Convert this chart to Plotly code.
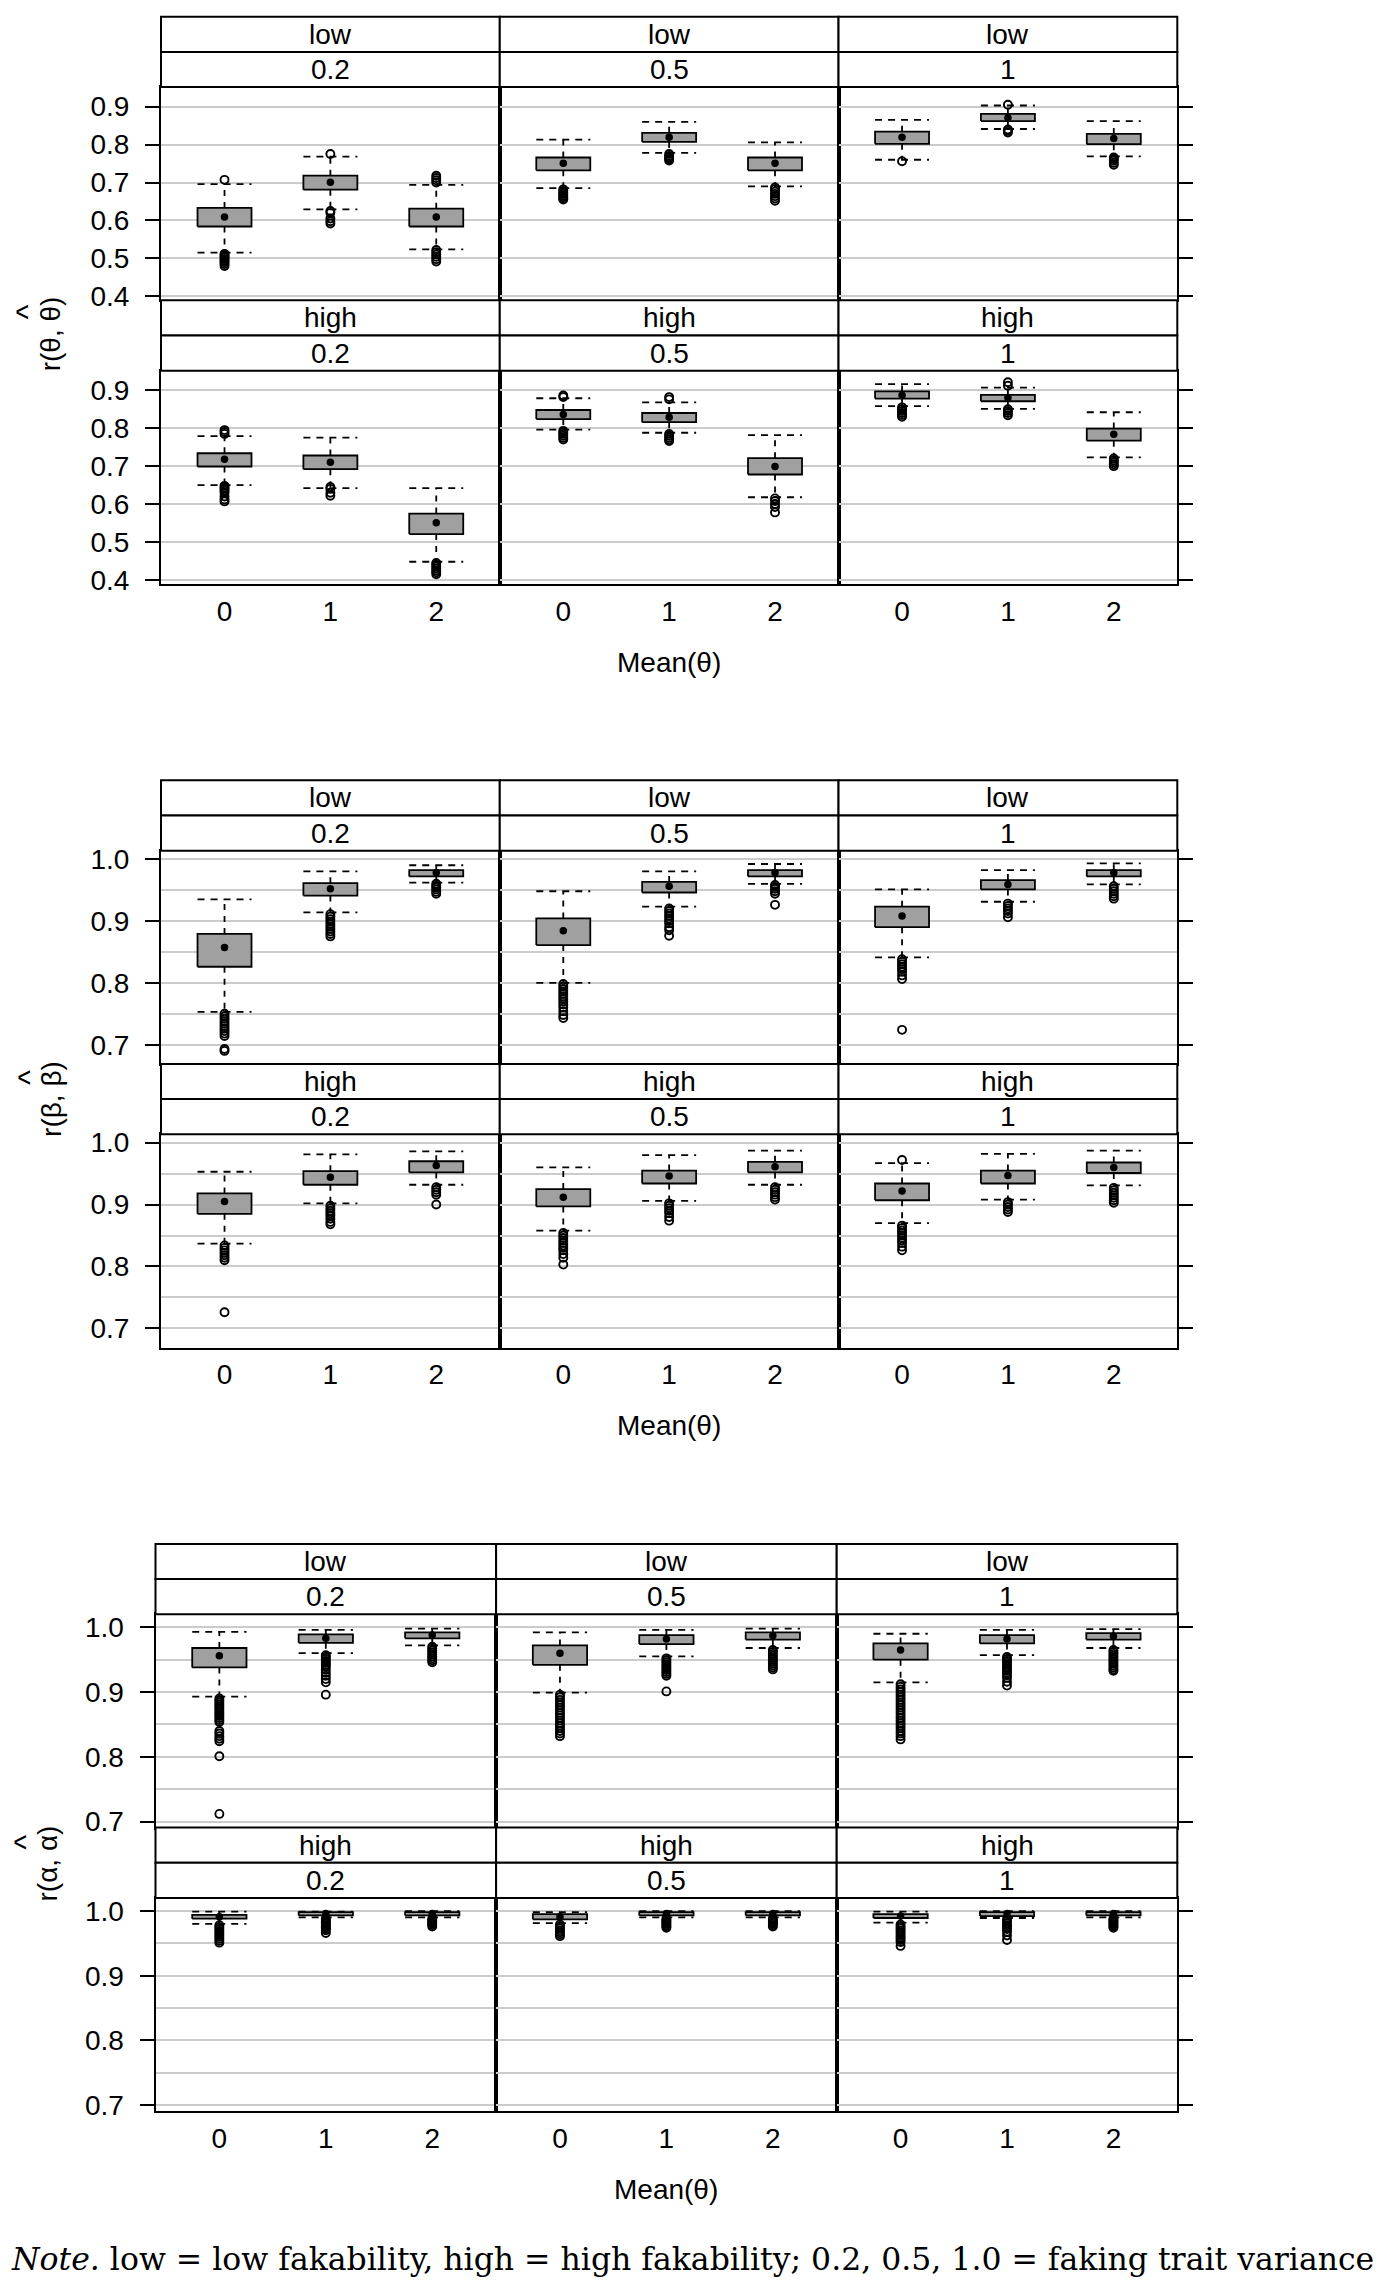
import plotly.graph_objects as go

means = ['0', '1', '2']
variances = ['0.2', '0.5', '1']
fakability = ['low', 'high']

# every list runs low/0.2, low/0.5, low/1, high/0.2, high/0.5, high/1 ; mean 0,1,2 inside each
theta_lo = [0.515, 0.629, 0.524, 0.685, 0.778, 0.690, 0.760, 0.841, 0.769,
            0.650, 0.642, 0.448, 0.796, 0.788, 0.618, 0.858, 0.851, 0.723]
theta_q1 = [0.584, 0.681, 0.584, 0.732, 0.807, 0.732, 0.802, 0.862, 0.801,
            0.699, 0.692, 0.521, 0.824, 0.816, 0.678, 0.878, 0.871, 0.767]
theta_med = [0.609, 0.701, 0.609, 0.751, 0.819, 0.751, 0.819, 0.871, 0.816,
             0.718, 0.710, 0.551, 0.836, 0.829, 0.699, 0.887, 0.880, 0.784]
theta_q3 = [0.633, 0.718, 0.631, 0.766, 0.831, 0.766, 0.834, 0.881, 0.828,
            0.734, 0.728, 0.575, 0.848, 0.840, 0.721, 0.897, 0.888, 0.799]
theta_hi = [0.696, 0.768, 0.694, 0.813, 0.860, 0.806, 0.865, 0.903, 0.862,
            0.779, 0.775, 0.642, 0.879, 0.868, 0.782, 0.916, 0.907, 0.842]
theta_out = [
    [0.707, 0.512, 0.508, 0.505, 0.502, 0.498, 0.494, 0.490, 0.485, 0.480],
    [0.775, 0.625, 0.620, 0.605, 0.598, 0.592],
    [0.718, 0.712, 0.706, 0.700, 0.522, 0.516, 0.510, 0.504, 0.498, 0.492],
    [0.682, 0.678, 0.674, 0.670, 0.666, 0.662, 0.658, 0.655],
    [0.775, 0.770, 0.766, 0.762, 0.758],
    [0.687, 0.682, 0.676, 0.670, 0.664, 0.658, 0.652],
    [0.756],
    [0.905, 0.840, 0.836, 0.832],
    [0.766, 0.762, 0.758, 0.752, 0.747],
    [0.795, 0.790, 0.785, 0.648, 0.644, 0.640, 0.635, 0.630, 0.620, 0.612, 0.607],
    [0.645, 0.640, 0.630, 0.622],
    [0.445, 0.440, 0.435, 0.430, 0.425, 0.420, 0.415],
    [0.886, 0.882, 0.793, 0.789, 0.785, 0.780, 0.775, 0.770],
    [0.882, 0.876, 0.785, 0.780, 0.775, 0.770, 0.766],
    [0.615, 0.608, 0.600, 0.592, 0.578],
    [0.855, 0.850, 0.845, 0.840, 0.835, 0.830],
    [0.921, 0.912, 0.850, 0.845, 0.840, 0.834],
    [0.720, 0.715, 0.710, 0.705, 0.700],
]

beta_lo = [0.753, 0.914, 0.962, 0.800, 0.923, 0.960, 0.841, 0.931, 0.959,
           0.837, 0.902, 0.932, 0.858, 0.906, 0.932, 0.870, 0.908, 0.931]
beta_q1 = [0.826, 0.941, 0.972, 0.861, 0.946, 0.972, 0.890, 0.951, 0.972,
           0.885, 0.932, 0.952, 0.897, 0.934, 0.952, 0.907, 0.934, 0.951]
beta_med = [0.857, 0.952, 0.978, 0.884, 0.956, 0.978, 0.908, 0.959, 0.978,
            0.905, 0.944, 0.963, 0.912, 0.946, 0.961, 0.922, 0.947, 0.960]
beta_q3 = [0.879, 0.961, 0.982, 0.904, 0.963, 0.982, 0.923, 0.966, 0.982,
           0.918, 0.954, 0.970, 0.925, 0.955, 0.969, 0.934, 0.955, 0.968]
beta_hi = [0.935, 0.980, 0.990, 0.948, 0.980, 0.992, 0.951, 0.982, 0.993,
           0.953, 0.981, 0.986, 0.960, 0.980, 0.987, 0.967, 0.982, 0.987]
beta_out = [
    [0.750, 0.746, 0.742, 0.738, 0.734, 0.730, 0.726, 0.722, 0.718, 0.714, 0.693, 0.690],
    [0.911, 0.907, 0.903, 0.899, 0.895, 0.891, 0.887, 0.883, 0.879, 0.875],
    [0.960, 0.957, 0.954, 0.951, 0.947, 0.944],
    [0.798, 0.794, 0.790, 0.786, 0.782, 0.778, 0.774, 0.770, 0.765, 0.760, 0.754, 0.748, 0.743],
    [0.920, 0.916, 0.912, 0.908, 0.904, 0.900, 0.896, 0.890, 0.885, 0.876],
    [0.958, 0.955, 0.952, 0.948, 0.944, 0.926],
    [0.838, 0.834, 0.830, 0.826, 0.822, 0.818, 0.812, 0.806, 0.724],
    [0.928, 0.924, 0.920, 0.916, 0.912, 0.906],
    [0.956, 0.952, 0.948, 0.944, 0.940, 0.936],
    [0.834, 0.830, 0.826, 0.822, 0.818, 0.814, 0.810, 0.726],
    [0.898, 0.894, 0.890, 0.886, 0.882, 0.877, 0.872, 0.868],
    [0.928, 0.924, 0.920, 0.916, 0.900],
    [0.854, 0.850, 0.846, 0.842, 0.838, 0.834, 0.830, 0.826, 0.820, 0.814, 0.803],
    [0.902, 0.898, 0.894, 0.890, 0.886, 0.880, 0.874],
    [0.928, 0.924, 0.920, 0.916, 0.912, 0.908],
    [0.972, 0.866, 0.862, 0.858, 0.854, 0.850, 0.846, 0.842, 0.838, 0.832, 0.826],
    [0.904, 0.900, 0.896, 0.892, 0.888],
    [0.927, 0.923, 0.919, 0.915, 0.911, 0.907, 0.903],
]

alpha_lo = [0.893, 0.960, 0.972, 0.899, 0.955, 0.968, 0.915, 0.957, 0.968,
            0.980, 0.990, 0.990, 0.981, 0.990, 0.990, 0.982, 0.989, 0.990]
alpha_q1 = [0.938, 0.976, 0.983, 0.942, 0.974, 0.981, 0.950, 0.975, 0.981,
            0.988, 0.993, 0.993, 0.987, 0.993, 0.993, 0.989, 0.992, 0.993]
alpha_med = [0.956, 0.983, 0.988, 0.960, 0.982, 0.987, 0.965, 0.982, 0.986,
             0.991, 0.996, 0.996, 0.991, 0.996, 0.996, 0.992, 0.996, 0.996]
alpha_q3 = [0.968, 0.989, 0.992, 0.972, 0.988, 0.992, 0.975, 0.988, 0.991,
            0.994, 0.998, 0.998, 0.995, 0.998, 0.998, 0.995, 0.998, 0.998]
alpha_hi = [0.993, 0.996, 0.998, 0.992, 0.996, 0.998, 0.990, 0.996, 0.997,
            0.999, 0.999, 0.9995, 0.998, 0.9995, 0.9995, 0.999, 0.9995, 0.9995]
alpha_out = [
    [0.890, 0.887, 0.884, 0.881, 0.878, 0.875, 0.872, 0.869, 0.866, 0.863, 0.860, 0.857, 0.854,
     0.840, 0.836, 0.832, 0.828, 0.824, 0.801, 0.712],
    [0.957, 0.954, 0.951, 0.948, 0.945, 0.942, 0.939, 0.935, 0.930, 0.925, 0.920, 0.915, 0.896],
    [0.970, 0.967, 0.964, 0.961, 0.958, 0.955, 0.952, 0.949, 0.946],
    [0.896, 0.892, 0.888, 0.884, 0.880, 0.876, 0.872, 0.868, 0.864, 0.860, 0.856, 0.852, 0.848,
     0.844, 0.840, 0.836, 0.832],
    [0.952, 0.949, 0.946, 0.943, 0.940, 0.937, 0.934, 0.931, 0.928, 0.925, 0.901],
    [0.965, 0.962, 0.959, 0.956, 0.953, 0.950, 0.947, 0.944, 0.941, 0.938, 0.935],
    [0.912, 0.908, 0.904, 0.900, 0.896, 0.892, 0.888, 0.884, 0.880, 0.876, 0.872, 0.868, 0.864,
     0.860, 0.856, 0.852, 0.848, 0.844, 0.840, 0.836, 0.832, 0.827],
    [0.954, 0.951, 0.948, 0.945, 0.942, 0.939, 0.936, 0.933, 0.930, 0.926, 0.922, 0.916, 0.910],
    [0.965, 0.962, 0.959, 0.956, 0.953, 0.950, 0.947, 0.944, 0.941, 0.938, 0.935, 0.933],
    [0.978, 0.975, 0.972, 0.969, 0.966, 0.963, 0.960, 0.957, 0.954, 0.951],
    [0.988, 0.986, 0.984, 0.982, 0.980, 0.978, 0.976, 0.974, 0.972, 0.970, 0.966],
    [0.988, 0.986, 0.984, 0.982, 0.980, 0.978, 0.976],
    [0.979, 0.976, 0.973, 0.970, 0.967, 0.964, 0.961],
    [0.988, 0.986, 0.984, 0.982, 0.980, 0.978, 0.976, 0.974],
    [0.988, 0.986, 0.984, 0.982, 0.980, 0.978, 0.976],
    [0.979, 0.976, 0.973, 0.970, 0.967, 0.964, 0.961, 0.958, 0.955, 0.952, 0.946],
    [0.987, 0.984, 0.981, 0.978, 0.975, 0.972, 0.968, 0.962, 0.955],
    [0.988, 0.986, 0.984, 0.982, 0.980, 0.978, 0.976, 0.974],
]

theta_ticks = [0.4, 0.5, 0.6, 0.7, 0.8, 0.9]
corr_ticks = [0.7, 0.8, 0.9, 1.0]
corr_minor = [0.75, 0.85, 0.95]

panels = [
    dict(lo=theta_lo, q1=theta_q1, med=theta_med, q3=theta_q3, hi=theta_hi, out=theta_out,
         ticks=theta_ticks, minor=[], yr=[0.3895, 0.9515], title='r(θ, θ)'),
    dict(lo=beta_lo, q1=beta_q1, med=beta_med, q3=beta_q3, hi=beta_hi, out=beta_out,
         ticks=corr_ticks, minor=corr_minor, yr=[0.669, 1.0135], title='r(β, β)'),
    dict(lo=alpha_lo, q1=alpha_q1, med=alpha_med, q3=alpha_q3, hi=alpha_hi, out=alpha_out,
         ticks=corr_ticks, minor=corr_minor, yr=[0.691, 1.020], title='r(α, α)'),
]

# page geometry in pixels
W, H = 1381, 2287
panel_top = [1.7, 771.7, 1541.7]
panel_left = [153, 153, 147.5]
panel_right = 1169.3
strip_h = 35.5
plot_h = 215
ytitle_pos = [(42, 322), (44, 1093), (40, 1864)]
hat_pos = [(19, 300), (21, 1072), (17, 1843)]
xtitle_y = [653, 1422, 2193]

FONT = 'Liberation Sans, Arial, sans-serif'
FS = 28
BLACK = 'black'
GRID = '#cbcbcb'
hw = 0.255


def px(x):
    return x / W


def py(y):
    return 1 - y / H


fig = go.Figure()
layout = {}
shapes = []
annotations = []

for p, pan in enumerate(panels):
    colw = (panel_right - panel_left[p]) / 3
    for r in range(2):
        top = panel_top[p] + r * (2 * strip_h + plot_h) + 2 * strip_h
        for c in range(3):
            n = p * 6 + r * 3 + c + 1
            k = r * 3 + c
            x0 = panel_left[p] + c * colw
            x1 = x0 + colw
            xa = 'x' if n == 1 else 'x%d' % n
            ya = 'y' if n == 1 else 'y%d' % n

            # strips
            labels = [fakability[r], variances[c]]
            for s in range(2):
                s0 = top - (2 - s) * strip_h
                s1 = s0 + strip_h
                shapes.append(dict(type='rect', xref='paper', yref='paper',
                                   x0=px(x0), x1=px(x1), y0=py(s1), y1=py(s0),
                                   line=dict(color=BLACK, width=2), fillcolor='white'))
                annotations.append(dict(xref='paper', yref='paper', x=px((x0 + x1) / 2),
                                        y=py((s0 + s1) / 2), text=labels[s], showarrow=False,
                                        font=dict(family=FONT, size=FS, color=BLACK),
                                        xanchor='center', yanchor='middle'))

            lo = pan['lo'][k * 3:k * 3 + 3]
            q1 = pan['q1'][k * 3:k * 3 + 3]
            med = pan['med'][k * 3:k * 3 + 3]
            q3 = pan['q3'][k * 3:k * 3 + 3]
            hi = pan['hi'][k * 3:k * 3 + 3]
            outs = pan['out'][k * 3:k * 3 + 3]

            wx, wy, cx, cy, bx, by, ox, oy = [], [], [], [], [], [], [], []
            for j in range(3):
                wx += [j, j, None, j, j, None]
                wy += [q3[j], hi[j], None, q1[j], lo[j], None]
                cx += [j - hw, j + hw, None, j - hw, j + hw, None]
                cy += [hi[j], hi[j], None, lo[j], lo[j], None]
                bx += [j - hw, j + hw, j + hw, j - hw, j - hw, None]
                by += [q1[j], q1[j], q3[j], q3[j], q1[j], None]
                ox += [j] * len(outs[j])
                oy += outs[j]

            common = dict(xaxis=xa, yaxis=ya, showlegend=False, hoverinfo='skip')
            fig.add_trace(go.Scatter(x=wx, y=wy, mode='lines',
                                     line=dict(color=BLACK, width=1.8, dash='6px,6px'), **common))
            fig.add_trace(go.Scatter(x=cx, y=cy, mode='lines',
                                     line=dict(color=BLACK, width=1.8, dash='7px,6px'), **common))
            fig.add_trace(go.Scatter(x=bx, y=by, mode='lines', fill='toself',
                                     fillcolor='#a0a0a0', line=dict(color=BLACK, width=1.8), **common))
            fig.add_trace(go.Scatter(x=ox, y=oy, mode='markers',
                                     marker=dict(symbol='circle-open', size=8, color=BLACK,
                                                 line=dict(width=1.9, color=BLACK)), **common))
            fig.add_trace(go.Scatter(x=[0, 1, 2], y=med, mode='markers',
                                     marker=dict(symbol='circle', size=7.5, color=BLACK), **common))

            xkey = 'xaxis' if n == 1 else 'xaxis%d' % n
            ykey = 'yaxis' if n == 1 else 'yaxis%d' % n
            layout[xkey] = dict(domain=[px(x0), px(x1)], anchor=ya, range=[-0.6, 2.6],
                                tickmode='array', tickvals=[0, 1, 2], ticktext=means,
                                showticklabels=(r == 1), ticks='', ticklen=0, ticklabelstandoff=1,
                                showgrid=False, zeroline=False, showline=True, mirror=True,
                                linecolor=BLACK, linewidth=2,
                                tickfont=dict(family=FONT, size=FS, color=BLACK))
            layout[ykey] = dict(domain=[py(top + plot_h), py(top)], anchor=xa, range=pan['yr'],
                                tickmode='array', tickvals=pan['ticks'], tickformat='.1f',
                                showticklabels=(c == 0), side='right' if c == 2 else 'left',
                                ticks='outside' if c != 1 else '', ticklen=14, tickwidth=2,
                                tickcolor=BLACK, ticklabelstandoff=10,
                                showgrid=True, gridcolor=GRID, gridwidth=2,
                                minor=dict(tickvals=pan['minor'], showgrid=True, gridcolor=GRID,
                                           gridwidth=2, ticks=''),
                                zeroline=False, showline=True, mirror=True,
                                linecolor=BLACK, linewidth=2,
                                tickfont=dict(family=FONT, size=FS, color=BLACK))

    annotations.append(dict(xref='paper', yref='paper', x=px(ytitle_pos[p][0]),
                            y=py(ytitle_pos[p][1]), text=pan['title'], textangle=-90,
                            showarrow=False, font=dict(family=FONT, size=FS, color=BLACK),
                            xanchor='center', yanchor='middle'))
    # hat over the estimated parameter
    annotations.append(dict(xref='paper', yref='paper', x=px(hat_pos[p][0]),
                            y=py(hat_pos[p][1]), text='^', textangle=-90,
                            showarrow=False, font=dict(family=FONT, size=32, color=BLACK),
                            xanchor='center', yanchor='middle'))
    annotations.append(dict(xref='paper', yref='paper',
                            x=px((panel_left[p] + panel_right) / 2), y=py(xtitle_y[p]),
                            text='Mean(θ)', showarrow=False,
                            font=dict(family=FONT, size=FS, color=BLACK),
                            xanchor='center', yanchor='middle'))

annotations.append(dict(xref='paper', yref='paper', x=0.001, y=py(2263),
                        text='<i>Note.</i> low = low fakability, high = high fakability; '
                             '0.2, 0.5, 1.0 = faking trait variance',
                        showarrow=False, font=dict(family='DejaVu Serif, serif', size=31.5, color=BLACK),
                        xanchor='left', yanchor='middle'))

fig.update_layout(width=W, height=H, autosize=False, margin=dict(l=0, r=0, t=0, b=0),
                  paper_bgcolor='white', plot_bgcolor='white',
                  shapes=shapes, annotations=annotations, **layout)

fig.write_html('out.html')
